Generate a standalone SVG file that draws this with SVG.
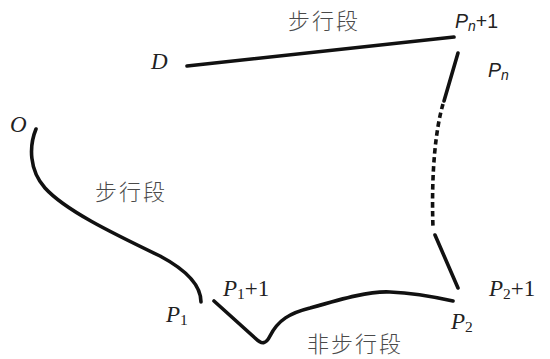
<svg xmlns="http://www.w3.org/2000/svg" width="550" height="359" viewBox="0 0 550 359">
<style>
.ln{fill:none;stroke:#111;stroke-width:3.6;stroke-linecap:round;stroke-linejoin:round}
.dot{fill:none;stroke:#111;stroke-width:3.6;stroke-linecap:butt;stroke-dasharray:5.5 3.5}
.cjk{font-family:"Noto Sans CJK SC",sans-serif;font-size:22px;fill:#4a4a4a;letter-spacing:2px;font-weight:300}
.ser{font-family:"Liberation Serif",serif;font-size:23px;fill:#222}
.san{font-family:"Liberation Sans",sans-serif;font-size:19.5px;fill:#222}
.it{font-style:italic}
</style>
<rect width="550" height="359" fill="#fff"/>
<g id="connectors">
<path class="ln" d="M187,66 L454,37"/>
<path class="ln" d="M458,53 L444,101"/>
<path class="dot" d="M443,104 C436,128 431,170 433,228"/>
<path class="ln" d="M435,235 L458,288"/>
<path class="ln" d="M36,129 C29,146 29,170 45,188 C65,210 110,232 160,256 C190,272 201,288 201,302"/>
<path class="ln" d="M214,301 L255,338 C262,345 266,344 270,336 C278,320 290,313 310,308 C345,298 370,291 390,292 C415,293 435,297 453,301"/>
</g>
<g id="label-top"><text class="cjk" x="288" y="29">步行段</text></g>
<g id="label-mid"><text class="cjk" x="95" y="200">步行段</text></g>
<g id="label-bottom"><text class="cjk" x="307" y="352">非步行段</text></g>
<g id="node-D"><text class="ser it" x="151" y="69">D</text></g>
<g id="node-O"><text class="ser it" x="10" y="132">O</text></g>
<g id="node-Pn1"><text class="san" x="455" y="28"><tspan class="it">P</tspan><tspan class="it" font-size="14" dy="3">n</tspan><tspan dy="-3">+1</tspan></text></g>
<g id="node-Pn"><text class="san" x="488" y="77"><tspan class="it">P</tspan><tspan class="it" font-size="14" dy="3">n</tspan></text></g>
<g id="node-P1"><text class="ser" x="166" y="322"><tspan class="it">P</tspan><tspan font-size="15.5" dy="3">1</tspan></text></g>
<g id="node-P1p1"><text class="ser" x="223" y="296"><tspan class="it">P</tspan><tspan font-size="15.5" dy="3">1</tspan><tspan dy="-3">+1</tspan></text></g>
<g id="node-P2"><text class="ser" x="451" y="329"><tspan class="it">P</tspan><tspan font-size="15.5" dy="3">2</tspan></text></g>
<g id="node-P2p1"><text class="ser" x="489" y="296"><tspan class="it">P</tspan><tspan font-size="15.5" dy="3">2</tspan><tspan dy="-3">+1</tspan></text></g>
</svg>
